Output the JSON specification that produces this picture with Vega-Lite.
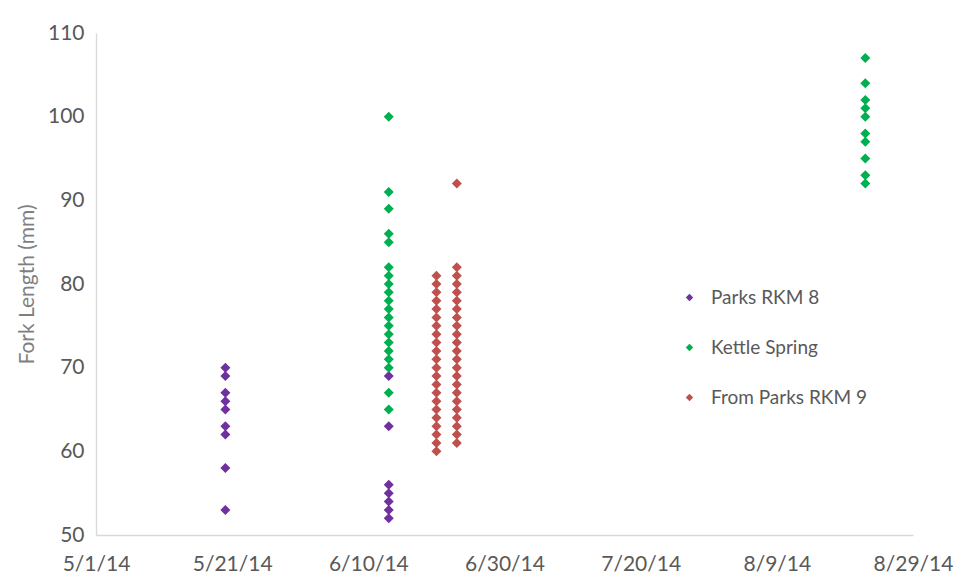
{
  "$schema": "https://vega.github.io/schema/vega-lite/v6.json",
  "autosize": {"type": "none"},
  "width": 817,
  "height": 502,
  "padding": {"left": 96, "top": 33, "right": 47, "bottom": 47},
  "background": "white",
  "config": {
    "view": {"stroke": null},
    "font": "Lato",
    "axis": {"grid": false, "ticks": false, "domainColor": "#d9d9d9", "domainWidth": 1.3, "labelColor": "#595959", "labelFont": "Lato", "labelFontSize": 21}
  },
  "data": {
    "values": [
      {"d": "2014/05/20", "v": 70, "s": "Parks RKM 8"},
      {"d": "2014/05/20", "v": 69, "s": "Parks RKM 8"},
      {"d": "2014/05/20", "v": 67, "s": "Parks RKM 8"},
      {"d": "2014/05/20", "v": 66, "s": "Parks RKM 8"},
      {"d": "2014/05/20", "v": 65, "s": "Parks RKM 8"},
      {"d": "2014/05/20", "v": 63, "s": "Parks RKM 8"},
      {"d": "2014/05/20", "v": 62, "s": "Parks RKM 8"},
      {"d": "2014/05/20", "v": 58, "s": "Parks RKM 8"},
      {"d": "2014/05/20", "v": 53, "s": "Parks RKM 8"},
      {"d": "2014/06/13", "v": 69, "s": "Parks RKM 8"},
      {"d": "2014/06/13", "v": 63, "s": "Parks RKM 8"},
      {"d": "2014/06/13", "v": 56, "s": "Parks RKM 8"},
      {"d": "2014/06/13", "v": 55, "s": "Parks RKM 8"},
      {"d": "2014/06/13", "v": 54, "s": "Parks RKM 8"},
      {"d": "2014/06/13", "v": 53, "s": "Parks RKM 8"},
      {"d": "2014/06/13", "v": 52, "s": "Parks RKM 8"},
      {"d": "2014/06/13", "v": 100, "s": "Kettle Spring"},
      {"d": "2014/06/13", "v": 91, "s": "Kettle Spring"},
      {"d": "2014/06/13", "v": 89, "s": "Kettle Spring"},
      {"d": "2014/06/13", "v": 86, "s": "Kettle Spring"},
      {"d": "2014/06/13", "v": 85, "s": "Kettle Spring"},
      {"d": "2014/06/13", "v": 82, "s": "Kettle Spring"},
      {"d": "2014/06/13", "v": 81, "s": "Kettle Spring"},
      {"d": "2014/06/13", "v": 80, "s": "Kettle Spring"},
      {"d": "2014/06/13", "v": 79, "s": "Kettle Spring"},
      {"d": "2014/06/13", "v": 78, "s": "Kettle Spring"},
      {"d": "2014/06/13", "v": 77, "s": "Kettle Spring"},
      {"d": "2014/06/13", "v": 76, "s": "Kettle Spring"},
      {"d": "2014/06/13", "v": 75, "s": "Kettle Spring"},
      {"d": "2014/06/13", "v": 74, "s": "Kettle Spring"},
      {"d": "2014/06/13", "v": 73, "s": "Kettle Spring"},
      {"d": "2014/06/13", "v": 72, "s": "Kettle Spring"},
      {"d": "2014/06/13", "v": 71, "s": "Kettle Spring"},
      {"d": "2014/06/13", "v": 70, "s": "Kettle Spring"},
      {"d": "2014/06/13", "v": 67, "s": "Kettle Spring"},
      {"d": "2014/06/13", "v": 65, "s": "Kettle Spring"},
      {"d": "2014/08/22", "v": 107, "s": "Kettle Spring"},
      {"d": "2014/08/22", "v": 104, "s": "Kettle Spring"},
      {"d": "2014/08/22", "v": 102, "s": "Kettle Spring"},
      {"d": "2014/08/22", "v": 101, "s": "Kettle Spring"},
      {"d": "2014/08/22", "v": 100, "s": "Kettle Spring"},
      {"d": "2014/08/22", "v": 98, "s": "Kettle Spring"},
      {"d": "2014/08/22", "v": 97, "s": "Kettle Spring"},
      {"d": "2014/08/22", "v": 95, "s": "Kettle Spring"},
      {"d": "2014/08/22", "v": 93, "s": "Kettle Spring"},
      {"d": "2014/08/22", "v": 92, "s": "Kettle Spring"},
      {"d": "2014/06/20", "v": 81, "s": "From Parks RKM 9"},
      {"d": "2014/06/20", "v": 80, "s": "From Parks RKM 9"},
      {"d": "2014/06/20", "v": 79, "s": "From Parks RKM 9"},
      {"d": "2014/06/20", "v": 78, "s": "From Parks RKM 9"},
      {"d": "2014/06/20", "v": 77, "s": "From Parks RKM 9"},
      {"d": "2014/06/20", "v": 76, "s": "From Parks RKM 9"},
      {"d": "2014/06/20", "v": 75, "s": "From Parks RKM 9"},
      {"d": "2014/06/20", "v": 74, "s": "From Parks RKM 9"},
      {"d": "2014/06/20", "v": 73, "s": "From Parks RKM 9"},
      {"d": "2014/06/20", "v": 72, "s": "From Parks RKM 9"},
      {"d": "2014/06/20", "v": 71, "s": "From Parks RKM 9"},
      {"d": "2014/06/20", "v": 70, "s": "From Parks RKM 9"},
      {"d": "2014/06/20", "v": 69, "s": "From Parks RKM 9"},
      {"d": "2014/06/20", "v": 68, "s": "From Parks RKM 9"},
      {"d": "2014/06/20", "v": 67, "s": "From Parks RKM 9"},
      {"d": "2014/06/20", "v": 66, "s": "From Parks RKM 9"},
      {"d": "2014/06/20", "v": 65, "s": "From Parks RKM 9"},
      {"d": "2014/06/20", "v": 64, "s": "From Parks RKM 9"},
      {"d": "2014/06/20", "v": 63, "s": "From Parks RKM 9"},
      {"d": "2014/06/20", "v": 62, "s": "From Parks RKM 9"},
      {"d": "2014/06/20", "v": 61, "s": "From Parks RKM 9"},
      {"d": "2014/06/20", "v": 60, "s": "From Parks RKM 9"},
      {"d": "2014/06/23", "v": 92, "s": "From Parks RKM 9"},
      {"d": "2014/06/23", "v": 82, "s": "From Parks RKM 9"},
      {"d": "2014/06/23", "v": 81, "s": "From Parks RKM 9"},
      {"d": "2014/06/23", "v": 80, "s": "From Parks RKM 9"},
      {"d": "2014/06/23", "v": 79, "s": "From Parks RKM 9"},
      {"d": "2014/06/23", "v": 78, "s": "From Parks RKM 9"},
      {"d": "2014/06/23", "v": 77, "s": "From Parks RKM 9"},
      {"d": "2014/06/23", "v": 76, "s": "From Parks RKM 9"},
      {"d": "2014/06/23", "v": 75, "s": "From Parks RKM 9"},
      {"d": "2014/06/23", "v": 74, "s": "From Parks RKM 9"},
      {"d": "2014/06/23", "v": 73, "s": "From Parks RKM 9"},
      {"d": "2014/06/23", "v": 72, "s": "From Parks RKM 9"},
      {"d": "2014/06/23", "v": 71, "s": "From Parks RKM 9"},
      {"d": "2014/06/23", "v": 70, "s": "From Parks RKM 9"},
      {"d": "2014/06/23", "v": 69, "s": "From Parks RKM 9"},
      {"d": "2014/06/23", "v": 68, "s": "From Parks RKM 9"},
      {"d": "2014/06/23", "v": 67, "s": "From Parks RKM 9"},
      {"d": "2014/06/23", "v": 66, "s": "From Parks RKM 9"},
      {"d": "2014/06/23", "v": 65, "s": "From Parks RKM 9"},
      {"d": "2014/06/23", "v": 64, "s": "From Parks RKM 9"},
      {"d": "2014/06/23", "v": 63, "s": "From Parks RKM 9"},
      {"d": "2014/06/23", "v": 62, "s": "From Parks RKM 9"},
      {"d": "2014/06/23", "v": 61, "s": "From Parks RKM 9"}
    ]
  },
  "mark": {"type": "point", "shape": "diamond", "filled": true, "opacity": 1, "size": 100},
  "encoding": {
    "x": {
      "field": "d", "type": "temporal",
      "scale": {"domain": [{"year": 2014, "month": 5, "date": 1}, {"year": 2014, "month": 8, "date": 29}], "nice": false},
      "axis": {
        "title": null, "format": "%-m/%-d/%y", "labelPadding": 18, "labelFlush": false, "labelOverlap": false,
        "values": [
          {"year": 2014, "month": 5, "date": 1},
          {"year": 2014, "month": 5, "date": 21},
          {"year": 2014, "month": 6, "date": 10},
          {"year": 2014, "month": 6, "date": 30},
          {"year": 2014, "month": 7, "date": 20},
          {"year": 2014, "month": 8, "date": 9},
          {"year": 2014, "month": 8, "date": 29}
        ]
      }
    },
    "y": {
      "field": "v", "type": "quantitative",
      "scale": {"domain": [50, 110], "nice": false, "zero": false},
      "axis": {"title": "Fork Length (mm)", "titleFont": "Lato", "titleFontSize": 21, "titleFontWeight": "normal", "titleColor": "#7f7f7f", "titlePadding": 10, "values": [50, 60, 70, 80, 90, 100, 110], "labelOverlap": false, "labelFlush": false, "labelPadding": 12}
    },
    "color": {
      "field": "s", "type": "nominal",
      "scale": {"domain": ["Parks RKM 8", "Kettle Spring", "From Parks RKM 9"], "range": ["#7030A0", "#00B050", "#C0504D"]},
      "legend": {
        "title": null, "orient": "none", "legendX": 584, "legendY": 255,
        "symbolType": "diamond", "symbolSize": 55, "labelFontSize": 19, "labelFont": "Lato", "labelColor": "#595959",
        "labelOffset": 12, "rowPadding": 30, "padding": 0, "symbolOpacity": 1
      }
    }
  }
}
